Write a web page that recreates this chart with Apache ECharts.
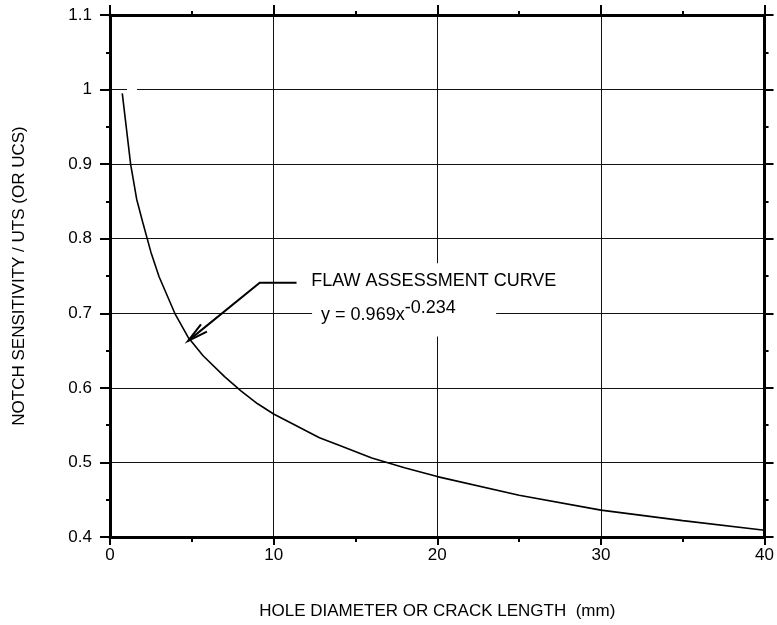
<!DOCTYPE html>
<html>
<head>
<meta charset="utf-8">
<title>Flaw assessment curve</title>
<script src="https://cdn.jsdelivr.net/npm/echarts@6/dist/echarts.min.js"></script>
<style>
  html, body { margin: 0; padding: 0; background: #fff; }
  #chart { width: 777px; height: 625px; }
</style>
</head>
<body>
<div id="chart"></div>
<script>
// Hole diameter / crack length (mm) and the matching notch sensitivity ratio
const holeDiameter = [0.75, 1.26, 1.63, 2, 2.5, 3, 3.96, 4.77, 5.69, 7, 8, 9, 10, 12.8, 14, 16, 18, 20, 25, 30, 35, 40];
const notchRatio   = [0.995, 0.900, 0.853, 0.822, 0.782, 0.749, 0.700, 0.668, 0.643, 0.615, 0.596, 0.579, 0.565, 0.533, 0.523, 0.506, 0.493, 0.481, 0.456, 0.436, 0.422, 0.409];

// Axis ranges and tick spacing
const xTicks = [0, 10, 20, 30, 40];
const yTicks = [0.4, 0.5, 0.6, 0.7, 0.8, 0.9, 1, 1.1];

// Annotation text
const curveLabel = 'FLAW ASSESSMENT CURVE';
const eqBase = 'y = 0.969x';
const eqExp = '-0.234';

const FONT = '"Liberation Sans", Arial, Helvetica, sans-serif';
const INK = '#000';

const chart = echarts.init(document.getElementById('chart'), null, { renderer: 'canvas' });

function frameAxis(extra) {
  return Object.assign({
    axisLine: { show: true, onZero: false, lineStyle: { color: INK, width: 3 } },
    axisTick: { show: true, inside: false, length: 9, lineStyle: { color: INK, width: 2 } },
    minorTick: { show: true, splitNumber: 2, length: 4, lineStyle: { color: INK, width: 2 } },
    splitLine: { show: false },
    minorSplitLine: { show: false }
  }, extra);
}

const xMin = xTicks[0], xMax = xTicks[xTicks.length - 1], xStep = xTicks[1] - xTicks[0];
const yMin = yTicks[0], yMax = yTicks[yTicks.length - 1], yStep = +(yTicks[1] - yTicks[0]).toFixed(3);

const option = {
  backgroundColor: '#fff',
  animation: false,
  textStyle: { fontFamily: FONT, color: INK },
  grid: { left: 110, right: 10, top: 15, bottom: 85, containLabel: false },
  xAxis: [
    frameAxis({
      type: 'value', position: 'bottom', min: xMin, max: xMax, interval: xStep,
      axisTick: { show: true, inside: false, length: 8, lineStyle: { color: INK, width: 2 } },
      minorTick: { show: true, splitNumber: 2, length: 5, lineStyle: { color: INK, width: 2 } },
      splitLine: { show: true, lineStyle: { color: '#111', width: 1 } },
      axisLabel: { fontSize: 17, color: INK, fontFamily: FONT, margin: 10 },
      name: 'HOLE DIAMETER OR CRACK LENGTH  (mm)',
      nameLocation: 'middle', nameGap: 66,
      nameTextStyle: { fontSize: 17, color: INK, fontFamily: FONT }
    }),
    frameAxis({
      type: 'value', position: 'top', min: xMin, max: xMax, interval: xStep,
      axisTick: { show: true, inside: false, length: 10, lineStyle: { color: INK, width: 2 } },
      axisLabel: { show: false }
    })
  ],
  yAxis: [
    frameAxis({
      type: 'value', position: 'left', min: yMin, max: yMax, interval: yStep,
      axisTick: { show: true, inside: false, length: 10, lineStyle: { color: INK, width: 2 } },
      splitLine: { show: true, lineStyle: { color: '#111', width: 1 } },
      axisLabel: {
        fontSize: 17, color: INK, fontFamily: FONT, margin: 18,
        formatter: v => String(+v.toFixed(2))
      },
      name: 'NOTCH SENSITIVITY / UTS (OR UCS)',
      nameLocation: 'middle', nameGap: 82,
      nameTextStyle: { fontSize: 17, color: INK, fontFamily: FONT }
    }),
    frameAxis({
      type: 'value', position: 'right', min: yMin, max: yMax, interval: yStep,
      axisLabel: { show: false }
    })
  ],
  series: [
    {
      // small break in the y = 1 grid line beside the curve start
      type: 'line',
      data: [[1.04, 1], [1.65, 1]],
      showSymbol: false, silent: true, z: 1,
      lineStyle: { color: '#fff', width: 4 }
    },
    {
      name: curveLabel,
      type: 'line',
      data: holeDiameter.map((x, i) => [x, notchRatio[i]]),
      showSymbol: false, smooth: false, z: 3,
      lineStyle: { color: INK, width: 1.6 }
    }
  ]
};

chart.setOption(option);

// Annotation placed in data space, then converted to pixels
const P = (x, y) => chart.convertToPixel({ xAxisIndex: 0, yAxisIndex: 0 }, [x, y]);

const boxTL = P(12.35, 0.767);
const boxBR = P(23.6, 0.669);
const labelPos = P(12.3, 0.743);
const eqPos = P(12.9, 0.697);
const tip = P(4.77, 0.663);
const elbow = P(9.15, 0.741);
const tail = P(11.4, 0.741);

// width of the equation base so the exponent sits right after it
const annoFont = '18px ' + FONT;
const measureCtx = document.createElement('canvas').getContext('2d');
measureCtx.font = annoFont;
const baseWidth = measureCtx.measureText(eqBase).width;

// open arrowhead along the leader line
const ang = Math.atan2(elbow[1] - tip[1], elbow[0] - tip[0]);
const barbLen = 21, spread = 13 * Math.PI / 180;
const barb1 = [tip[0] + barbLen * Math.cos(ang + spread), tip[1] + barbLen * Math.sin(ang + spread)];
const barb2 = [tip[0] + barbLen * Math.cos(ang - spread), tip[1] + barbLen * Math.sin(ang - spread)];

chart.setOption({
  graphic: [
    {
      type: 'rect', z: 10,
      shape: { x: boxTL[0], y: boxTL[1], width: boxBR[0] - boxTL[0], height: boxBR[1] - boxTL[1] },
      style: { fill: '#fff' }
    },
    {
      type: 'text', z: 11, x: labelPos[0], y: labelPos[1],
      style: { text: curveLabel, font: annoFont, fill: INK, verticalAlign: 'middle', align: 'left' }
    },
    {
      type: 'text', z: 11, x: eqPos[0], y: eqPos[1],
      style: { text: eqBase, font: annoFont, fill: INK, verticalAlign: 'middle', align: 'left' }
    },
    {
      type: 'text', z: 11, x: eqPos[0] + baseWidth, y: eqPos[1] - 7,
      style: { text: eqExp, font: annoFont, fill: INK, verticalAlign: 'middle', align: 'left' }
    },
    {
      type: 'polyline', z: 12,
      shape: { points: [tail, elbow, tip] },
      style: { stroke: INK, lineWidth: 2, fill: null }
    },
    {
      type: 'polyline', z: 12,
      shape: { points: [barb1, tip, barb2] },
      style: { stroke: INK, lineWidth: 2, fill: null }
    }
  ]
});
</script>
</body>
</html>
